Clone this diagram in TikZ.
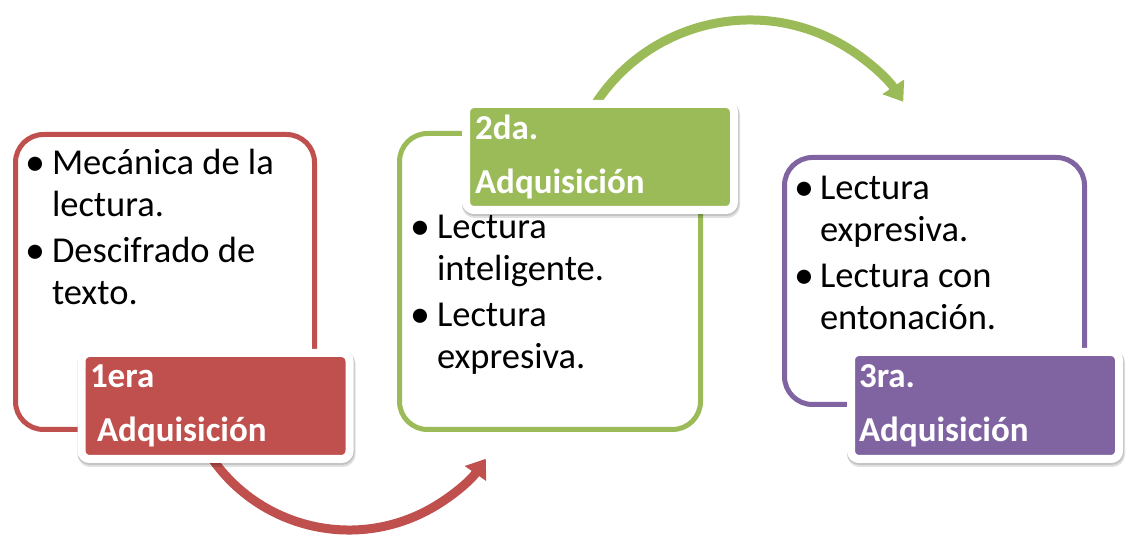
\documentclass[tikz,border=0pt]{standalone}
\usepackage{fontspec}
\setmainfont{Carlito}
\usetikzlibrary{arrows.meta}
\definecolor{cRed}{HTML}{C0504D}
\definecolor{cGreen}{HTML}{9BBB59}
\definecolor{cPurple}{HTML}{8064A2}
\newcommand{\bul}[1][25pt]{\makebox[#1][l]{\hspace*{-1.5pt}\raisebox{-1pt}{\fontsize{40}{42}\selectfont •}}}
\begin{document}
\begin{tikzpicture}[x=1pt,y=1pt,
  panel/.style={draw=#1, line width=5pt, rounded corners=28pt, fill=white,
    inner sep=0pt, outer sep=0pt},
  lab/.style={fill=#1, draw=white, line width=8pt, rounded corners=8pt,
    inner sep=0pt, outer sep=0pt, minimum width=268pt, minimum height=106pt,
    preaction={draw=black, line width=10pt, opacity=0.12,
      transform canvas={xshift=1pt, yshift=-3pt}},
    preaction={draw=black, line width=9pt, opacity=0.12,
      transform canvas={xshift=0.5pt, yshift=-1.5pt}}},
  bullets/.style={anchor=base west, inner sep=0pt, outer sep=0pt,
    font=\fontsize{36.5}{42}\selectfont, text=black},
  labtext/.style={anchor=base west, inner sep=0pt, outer sep=0pt,
    font=\bfseries\fontsize{35}{54}\selectfont, text=white},
  arr/.style={line width=9pt, -{Triangle[width=25pt,length=18pt]}}
]
\useasboundingbox (0,0) rectangle (1129,540);
\fill[white] (0,0) rectangle (1129,540);

% panels
\node[panel=cRed, minimum width=299pt, minimum height=295pt] (p1) at (165,258) {};
\node[panel=cGreen, minimum width=301pt, minimum height=296pt] (p2) at (550,258.5) {};
\node[panel=cPurple, minimum width=300pt, minimum height=247pt] (p3) at (934.5,259) {};

% arrows
\coordinate (r0) at ([shift={(208:167)}]349,177);
\draw[arr, cRed] (r0) arc[start angle=208, end angle=325, radius=167];
\coordinate (g0) at ([shift={(150:184.4)}]750,335.6);
\draw[arr, cGreen] (g0) arc[start angle=150, end angle=33.8, radius=184.4];

% bullet texts
\node[bullets] (b1) at (27,365) {\begin{tabular}[t]{@{}l@{}l@{}}\bul & Mecánica de la\\ & lectura.\\[4pt] \bul & Descifrado de\\ & texto.\end{tabular}};
\node[bullets] (b2) at (412,301) {\begin{tabular}[t]{@{}l@{}l@{}}\bul & Lectura\\ & inteligente.\\[4pt] \bul & Lectura\\ & expresiva.\end{tabular}};
\node[bullets] (b3) at (796,340) {\begin{tabular}[t]{@{}l@{}l@{}}\bul[24pt] & Lectura\\ & expresiva.\\[4pt] \bul[24pt] & Lectura con\\ & entonación.\end{tabular}};

% labels
\node[lab=cRed] (l1) at (215.5,134) {};
\node[lab=cGreen] (l2) at (600,383) {};
\node[lab=cPurple, minimum height=107pt] (l3) at (985,134.5) {};
\node[labtext] (t1) at (90,152) {\begin{tabular}[t]{@{}l@{}}1era\\\hspace{7pt}Adquisición\end{tabular}};
\node[labtext] (t2) at (475,400) {\begin{tabular}[t]{@{}l@{}}2da.\\Adquisición\end{tabular}};
\node[labtext] (t3) at (859,152) {\begin{tabular}[t]{@{}l@{}}3ra.\\Adquisición\end{tabular}};
\end{tikzpicture}
\end{document}
